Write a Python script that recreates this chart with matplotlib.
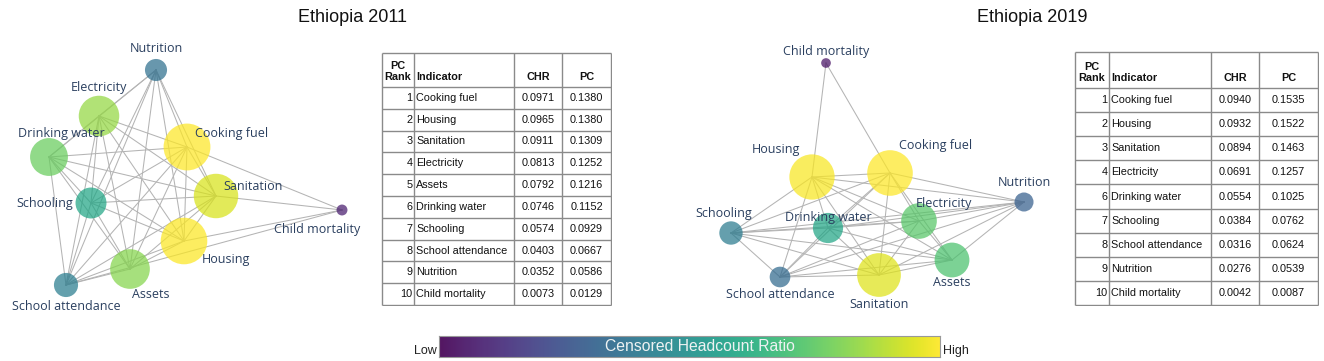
import itertools
import matplotlib
matplotlib.use("Agg")
import matplotlib.pyplot as plt
import numpy as np

W, H = 1324, 361

# ---- data ----
indicators = ["Nutrition", "Electricity", "Drinking water", "Cooking fuel", "Sanitation",
              "Schooling", "Child mortality", "Housing", "Assets", "School attendance"]

# censored headcount ratio per indicator (same order as indicators)
chr_2011 = [0.0352, 0.0813, 0.0746, 0.0971, 0.0911, 0.0574, 0.0073, 0.0965, 0.0792, 0.0403]
chr_2019 = [0.0276, 0.0691, 0.0554, 0.0940, 0.0894, 0.0384, 0.0042, 0.0932, 0.0670, 0.0316]

# network layout (pixel positions in the picture)
pos_x_2011 = [156, 99, 49, 187, 216, 91, 342, 184, 130, 66]
pos_y_2011 = [70, 116, 157, 147, 196, 203, 210, 241, 269, 285]
lbl_x_2011 = [156, 99, 61, 232, 253, 45, 317, 226, 151, 66]
lbl_y_2011 = [48, 88, 133, 133, 187, 204, 229, 260, 295, 307]

pos_x_2019 = [1024, 919, 828, 890, 879, 731, 826, 812, 952, 780]
pos_y_2019 = [202, 221, 228, 173, 275, 233, 63, 177, 260, 277]
lbl_x_2019 = [1024, 944, 828, 936, 879, 724, 826, 776, 952, 780]
lbl_y_2019 = [182, 203, 218, 146, 304, 213, 52, 149, 282, 294]

# links of child mortality to the other indicators
cm_links_2011 = ["Cooking fuel", "Sanitation", "Housing", "School attendance"]
cm_links_2019 = ["Housing", "Cooking fuel"]

# tables
rank_2011 = [1, 2, 3, 4, 5, 6, 7, 8, 9, 10]
ind_2011 = ["Cooking fuel", "Housing", "Sanitation", "Electricity", "Assets", "Drinking water",
            "Schooling", "School attendance", "Nutrition", "Child mortality"]
tchr_2011 = ["0.0971", "0.0965", "0.0911", "0.0813", "0.0792", "0.0746", "0.0574", "0.0403", "0.0352", "0.0073"]
tpc_2011 = ["0.1380", "0.1380", "0.1309", "0.1252", "0.1216", "0.1152", "0.0929", "0.0667", "0.0586", "0.0129"]

rank_2019 = [1, 2, 3, 4, 6, 7, 8, 9, 10]
ind_2019 = ["Cooking fuel", "Housing", "Sanitation", "Electricity", "Drinking water",
            "Schooling", "School attendance", "Nutrition", "Child mortality"]
tchr_2019 = ["0.0940", "0.0932", "0.0894", "0.0691", "0.0554", "0.0384", "0.0316", "0.0276", "0.0042"]
tpc_2019 = ["0.1535", "0.1522", "0.1463", "0.1257", "0.1025", "0.0762", "0.0624", "0.0539", "0.0087"]

label_color = "#2a3f5f"

fig = plt.figure(figsize=(W / 100, H / 100), dpi=100)


def px_axes(x0, y0, x1, y1):
    ax = fig.add_axes([x0 / W, 1 - y1 / H, (x1 - x0) / W, (y1 - y0) / H])
    return ax


def draw_network(box, px, py, lx, ly, chr_vals, cm_links):
    ax = px_axes(*box)
    ax.set_xlim(box[0], box[2])
    ax.set_ylim(box[3], box[1])
    ax.axis("off")
    main = [i for i, n in enumerate(indicators) if n != "Child mortality"]
    cm = indicators.index("Child mortality")
    edges = list(itertools.combinations(main, 2))
    edges += [(cm, indicators.index(n)) for n in cm_links]
    for a, b in edges:
        ax.plot([px[a], px[b]], [py[a], py[b]], color="#b4b4b4", lw=0.75, zorder=1)
    vals = np.array(chr_vals)
    r_px = 4 + 200 * vals
    sizes = (2 * r_px * 0.72) ** 2
    ax.scatter(px, py, s=sizes, c=vals, cmap="viridis", vmin=0, vmax=vals.max(),
               alpha=0.72, linewidths=0, zorder=2)
    for i, name in enumerate(indicators):
        ax.text(lx[i], ly[i], name, ha="center", va="center", fontsize=9,
                family="Open Sans", color=label_color, zorder=3)


def draw_table(box, header_h, col_edges, ranks, names, chrs, pcs):
    x0, y0, x1, y1 = box
    ax = px_axes(x0 - 1, y0 - 1, x1 + 1, y1 + 1)
    ax.set_xlim(x0 - 1, x1 + 1)
    ax.set_ylim(y1 + 1, y0 - 1)
    ax.axis("off")
    n = len(ranks)
    row_h = (y1 - y0 - header_h) / n
    ys = [y0, y0 + header_h] + [y0 + header_h + row_h * (k + 1) for k in range(n)]
    ax.hlines(ys, x0, x1, color="#8a8a8a", lw=1)
    ax.vlines(col_edges, y0, y1, color="#8a8a8a", lw=1)
    fnt = dict(family="Liberation Sans", fontsize=7.8, color="#111111")
    hy = y0 + header_h - 5
    ax.text((col_edges[0] + col_edges[1]) / 2, hy, "PC\nRank", ha="center", va="bottom",
            fontweight="bold", linespacing=1.1, **fnt)
    ax.text(col_edges[1] + 2, hy, "Indicator", ha="left", va="bottom", fontweight="bold", **fnt)
    ax.text((col_edges[2] + col_edges[3]) / 2, hy, "CHR", ha="center", va="bottom", fontweight="bold", **fnt)
    ax.text((col_edges[3] + col_edges[4]) / 2, hy, "PC", ha="center", va="bottom", fontweight="bold", **fnt)
    for k in range(n):
        yc = y0 + header_h + row_h * (k + 0.5)
        ax.text(col_edges[1] - 1.5, yc, str(ranks[k]), ha="right", va="center", **fnt)
        ax.text(col_edges[1] + 2, yc, names[k], ha="left", va="center", **fnt)
        ax.text((col_edges[2] + col_edges[3]) / 2, yc, chrs[k], ha="center", va="center", **fnt)
        ax.text((col_edges[3] + col_edges[4]) / 2, yc, pcs[k], ha="center", va="center", **fnt)


draw_network((0, 30, 370, 320), pos_x_2011, pos_y_2011, lbl_x_2011, lbl_y_2011, chr_2011, cm_links_2011)
draw_network((680, 30, 1060, 320), pos_x_2019, pos_y_2019, lbl_x_2019, lbl_y_2019, chr_2019, cm_links_2019)

draw_table((382, 53, 611, 305), 34, [382, 414, 514, 562, 611], rank_2011, ind_2011, tchr_2011, tpc_2011)
draw_table((1075, 52, 1318, 305), 36, [1075, 1109, 1211, 1259, 1318], rank_2019, ind_2019, tchr_2019, tpc_2019)

# titles
fig.text(353 / W, 1 - 17 / H, "Ethiopia 2011", ha="center", va="center", fontsize=13,
         family="Liberation Sans", color="#111111")
fig.text(1032 / W, 1 - 17 / H, "Ethiopia 2019", ha="center", va="center", fontsize=13,
         family="Liberation Sans", color="#111111")

# colour bar
cax = px_axes(439, 336, 940, 357)
cax.imshow(np.linspace(0, 1, 256)[None, :], aspect="auto", cmap="viridis", alpha=0.92)
cax.set_xticks([])
cax.set_yticks([])
for s in cax.spines.values():
    s.set_color("#999999")
    s.set_linewidth(0.8)
cax.text(0.521, 0.5, "Censored Headcount Ratio", transform=cax.transAxes, ha="center", va="center",
         fontsize=11.3, family="Liberation Sans", color="#eef2f2")
fig.text(437 / W, 1 - 357 / H, "Low", ha="right", va="bottom", fontsize=9,
         family="Liberation Sans", color="#222222")
fig.text(943 / W, 1 - 357 / H, "High", ha="left", va="bottom", fontsize=9,
         family="Liberation Sans", color="#222222")

fig.savefig("out.png", dpi=100)
